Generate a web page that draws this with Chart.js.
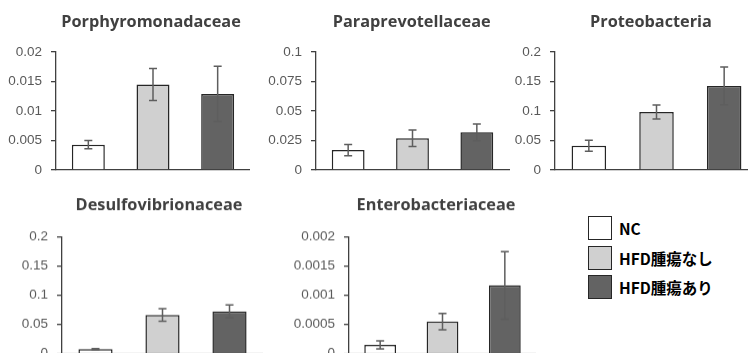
<!DOCTYPE html>
<html><head><meta charset="utf-8">
<script src="https://cdn.jsdelivr.net/npm/chart.js@4/dist/chart.umd.min.js"></script>
<style>
html,body{margin:0;padding:0;background:#fff;}
body{width:748px;height:353px;overflow:hidden;position:relative}
.pane{position:absolute}
.legend{position:absolute;left:588px;top:216px;font-family:"Noto Sans CJK JP",sans-serif;font-weight:bold;font-size:15.5px;color:#000}
.item{position:absolute;left:0;height:24px;display:flex;align-items:center;white-space:nowrap}
.box{width:24px;height:24px;border:1.6px solid #262626;box-sizing:border-box;margin-right:7px}
</style></head><body>
<div class="pane" id="p1" style="left:0;top:0;width:250px;height:190px"><canvas id="c1"></canvas></div>
<div class="pane" id="p2" style="left:250px;top:0;width:260px;height:190px"><canvas id="c2"></canvas></div>
<div class="pane" id="p3" style="left:500px;top:0;width:258px;height:190px"><canvas id="c3"></canvas></div>
<div class="pane" id="p4" style="left:0;top:180px;width:263px;height:192.7px"><canvas id="c4"></canvas></div>
<div class="pane" id="p5" style="left:250px;top:180px;width:286px;height:192.7px"><canvas id="c5"></canvas></div>
<div class="legend" id="legend"></div>
<script>
// ---- data ----
const groups = ["NC", "HFD腫瘍なし", "HFD腫瘍あり"];
const groupColors = ["#FFFFFF", "#D0D0D0", "#636363"];

const titles = ["Porphyromonadaceae", "Paraprevotellaceae", "Proteobacteria", "Desulfovibrionaceae", "Enterobacteriaceae"];

const porphyroValues = [0.0043, 0.0145, 0.0129];
const porphyroErrors = [0.0007, 0.0027, 0.0047];
const porphyroTicks = [0, 0.005, 0.01, 0.015, 0.02];
const porphyroTickLabels = ["0", "0.005", "0.01", "0.015", "0.02"];

const paraprevValues = [0.0169, 0.0269, 0.0319];
const paraprevErrors = [0.0048, 0.0070, 0.0071];
const paraprevTicks = [0, 0.025, 0.05, 0.075, 0.1];
const paraprevTickLabels = ["0", "0.025", "0.05", "0.075", "0.1"];

const proteoValues = [0.0410, 0.0983, 0.1424];
const proteoErrors = [0.0093, 0.0120, 0.0320];
const proteoTicks = [0, 0.05, 0.1, 0.15, 0.2];
const proteoTickLabels = ["0", "0.05", "0.1", "0.15", "0.2"];

const desulfoValues = [0.0076, 0.0662, 0.0724];
const desulfoErrors = [0.0010, 0.0107, 0.0110];
const desulfoTicks = [0, 0.05, 0.1, 0.15, 0.2];
const desulfoTickLabels = ["0", "0.05", "0.1", "0.15", "0.2"];

const enteroValues = [0.00015, 0.00055, 0.00117];
const enteroErrors = [0.00007, 0.00014, 0.00058];
const enteroTicks = [0, 0.0005, 0.001, 0.0015, 0.002];
const enteroTickLabels = ["0", "0.0005", "0.001", "0.0015", "0.002"];

// ---- rendering ----
const errorBarPlugin = {
  id: 'errorBars',
  afterDatasetsDraw(chart) {
    const errs = chart.options.plugins.errorBars.errors;
    const meta = chart.getDatasetMeta(0);
    const ys = chart.scales.y;
    const ds = chart.data.datasets[0].data;
    const ctx = chart.ctx;
    ctx.save();
    ctx.strokeStyle = '#5e5e5e';
    ctx.lineWidth = 1.5;
    meta.data.forEach((bar, i) => {
      const x = bar.x;
      const yTop = ys.getPixelForValue(ds[i] + errs[i]);
      const yBot = ys.getPixelForValue(Math.max(0, ds[i] - errs[i]));
      ctx.beginPath();
      ctx.moveTo(x, yTop); ctx.lineTo(x, yBot);
      ctx.moveTo(x - 4, yTop); ctx.lineTo(x + 4, yTop);
      ctx.moveTo(x - 4, yBot); ctx.lineTo(x + 4, yBot);
      ctx.stroke();
    });
    ctx.restore();
  }
};
const titlePlugin = {
  id: 'panelTitle',
  afterDraw(chart) {
    const o = chart.options.plugins.panelTitle;
    const ctx = chart.ctx;
    ctx.save();
    ctx.font = 'bold 16.3px "Open Sans", sans-serif';
    ctx.fillStyle = '#404040';
    ctx.textAlign = 'center';
    ctx.textBaseline = 'middle';
    const x = o.x != null ? o.x : (chart.chartArea.left + chart.chartArea.right) / 2;
    ctx.fillText(o.text, x, o.y);
    ctx.restore();
  }
};

function makePanel(canvasId, title, values, errors, ticks, tickLabels, cfg) {
  new Chart(document.getElementById(canvasId), {
    type: 'bar',
    data: {
      labels: groups,
      datasets: [{
        data: values,
        backgroundColor: groupColors,
        borderColor: '#262626',
        borderWidth: 1.5,
        categoryPercentage: 1,
        barPercentage: 0.51
      }]
    },
    options: {
      responsive: true,
      maintainAspectRatio: false,
      animation: false,
      layout: { autoPadding: false, padding: { top: cfg.padTop, bottom: 20, left: 0, right: cfg.padRight } },
      plugins: {
        legend: { display: false },
        tooltip: { enabled: false },
        title: { display: false },
        errorBars: { errors: errors },
        panelTitle: { text: title, y: cfg.titleY, x: cfg.titleX }
      },
      scales: {
        x: {
          type: 'category',
          ticks: { display: false },
          grid: { display: false },
          border: { display: true, color: '#404040', width: 1.3 },
          afterFit(s) { s.height = 0; }
        },
        y: {
          min: ticks[0],
          max: ticks[ticks.length - 1],
          afterBuildTicks(s) { s.ticks = ticks.map(v => ({ value: v })); },
          ticks: {
            color: '#595959',
            font: { family: '"Liberation Sans", sans-serif', size: 13.5 },
            padding: 9,
            callback: (v, i) => tickLabels[i]
          },
          grid: { drawOnChartArea: false, drawTicks: true, tickLength: 5, color: '#404040', lineWidth: 1.3 },
          border: { display: true, color: '#404040', width: 1.3 },
          afterFit(s) { s.width = cfg.axisW; }
        }
      }
    },
    plugins: [errorBarPlugin, titlePlugin]
  });
}

makePanel('c1', titles[0], porphyroValues, porphyroErrors, porphyroTicks, porphyroTickLabels,
  { axisW: 56, padTop: 52, padRight: 0, titleY: 22, titleX: 151 });
makePanel('c2', titles[1], paraprevValues, paraprevErrors, paraprevTicks, paraprevTickLabels,
  { axisW: 66, padTop: 52, padRight: 1, titleY: 22, titleX: 161.7 });
makePanel('c3', titles[2], proteoValues, proteoErrors, proteoTicks, proteoTickLabels,
  { axisW: 55, padTop: 52, padRight: 0, titleY: 22, titleX: 151 });
makePanel('c4', titles[3], desulfoValues, desulfoErrors, desulfoTicks, desulfoTickLabels,
  { axisW: 62, padTop: 56.7, padRight: 0, titleY: 25, titleX: 159 });
makePanel('c5', titles[4], enteroValues, enteroErrors, enteroTicks, enteroTickLabels,
  { axisW: 99, padTop: 56.7, padRight: 0, titleY: 25, titleX: 186 });

const legend = document.getElementById('legend');
groups.forEach((g, i) => {
  const row = document.createElement('div');
  row.className = 'item';
  row.style.top = (i * 29.7) + 'px';
  const box = document.createElement('div');
  box.className = 'box';
  box.style.background = groupColors[i];
  const txt = document.createElement('span');
  txt.textContent = g;
  row.appendChild(box); row.appendChild(txt);
  legend.appendChild(row);
});
</script>
</body></html>
